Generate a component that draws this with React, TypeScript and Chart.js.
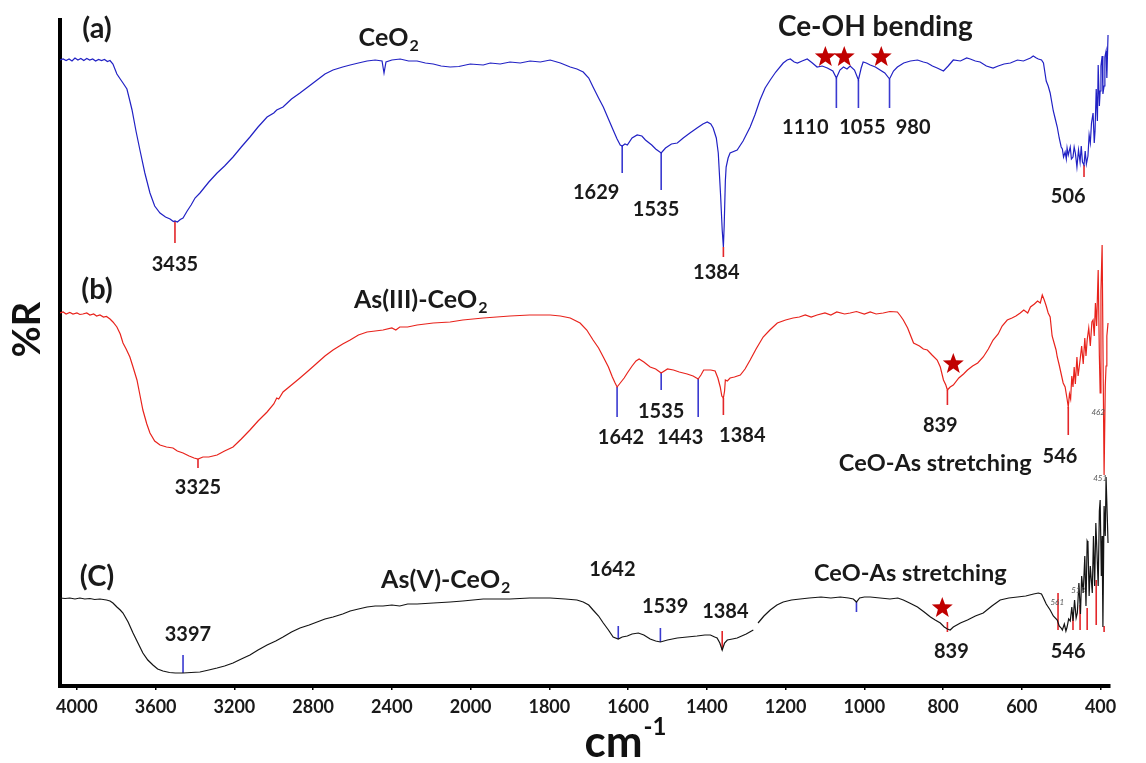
import React, { useEffect, useRef } from "react";
import { Chart, registerables } from "chart.js";
Chart.register(...registerables);

const FONT = "Lato, 'Open Sans', 'DejaVu Sans', sans-serif";

// x-axis: compressed scale above 2000 cm-1 (400 per tick), 200 per tick below
const xTickLabels = [4000, 3600, 3200, 2800, 2400, 2000, 1800, 1600, 1400, 1200, 1000, 800, 600, 400];
const WN_START = 4086;
const WN_END = 376;
function toU(wn: number): number {
  return wn >= 2000 ? (4000 - wn) / 400 : 5 + (2000 - wn) / 200;
}

// (a) CeO2 — wavenumber / %R (offset units)
const ceo2Wn = [4086,4070,4055,4040,4025,4010,3995,3980,3965,3950,3935,3920,3905,3890,3875,3860,3845,3832,3817,3797,3780,3766,3746,3731,3720,3700,3680,3655,3629,3605,3578,3550,3527,3510,3502,3490,3475,3461,3440,3420,3400,3375,3330,3288,3250,3207,3165,3121,3080,3034,3000,2985,2953,2910,2867,2820,2780,2740,2699,2650,2612,2570,2526,2485,2450,2440,2430,2400,2358,2315,2272,2230,2190,2150,2104,2060,2002,1968,1950,1925,1900,1874,1849,1823,1798,1772,1747,1730,1714,1700,1689,1675,1663,1650,1638,1628,1620,1615,1608,1602,1590,1577,1565,1556,1540,1530,1516,1505,1490,1475,1460,1443,1425,1410,1399,1390,1384,1376,1371,1365,1361,1358,1356,1353,1351,1346,1341,1323,1308,1290,1278,1265,1252,1239,1225,1206,1196,1188,1178,1170,1158,1145,1132,1120,1107,1094,1080,1071,1062,1053,1044,1036,1025,1015,1008,1003,995,985,972,960,948,936,926,916,900,883,865,850,840,827,815,799,787,774,756,740,731,718,706,690,673,660,645,629,611,596,578,571,563,558,550,545,538,533,528,520,515,510,505,500,497,494,490,487,485,482,477,474,470,467,464,460,456,452,449,446,442,439,436,432,429,426,423,419,416,414,411,408,406,403,401,399,396,394,391,389,386,384,381];
const ceo2R = [125.2,125.4,125.1,125.4,125.0,125.6,125.2,125.5,125.1,125.5,125.2,125.4,125.0,125.3,125.1,125.3,124.9,125.1,124.4,122.4,121.4,120.6,119.4,117.0,115.2,111.0,107.2,102.6,98.6,96.0,94.6,93.8,93.4,92.9,93.0,92.8,93.3,93.6,95.0,96.2,97.6,98.6,100.8,102.6,104.0,105.8,107.8,109.8,111.8,113.8,114.6,115.2,115.8,117.4,118.6,120.0,121.2,122.4,123.2,123.8,124.2,124.6,125.0,125.2,125.0,122.6,124.8,125.2,125.4,125.0,125.0,124.6,124.4,124.0,123.8,123.9,124.4,124.2,124.6,124.4,124.8,124.6,125.0,124.8,125.2,124.6,123.8,123.4,122.8,121.6,119.8,117.6,115.8,113.4,111.2,109.4,108.2,108.0,108.4,108.2,109.6,110.2,110.0,109.2,108.2,107.4,106.6,107.6,108.4,108.6,109.6,110.6,111.6,112.4,112.8,112.4,111.6,109.6,106.6,98.0,91.2,87.8,92.0,101.0,103.8,105.6,106.6,107.2,109.0,111.8,114.2,117.2,119.6,121.2,122.8,124.6,125.2,125.4,124.8,124.6,125.0,125.4,124.6,123.8,124.0,123.6,123.0,121.6,123.2,123.8,123.4,124.0,123.2,121.2,123.6,124.8,124.6,124.2,123.8,123.2,122.6,121.4,123.0,123.8,124.6,125.0,125.2,124.8,124.6,124.0,123.6,123.0,124.0,125.2,125.0,125.6,125.4,125.0,124.8,124.0,123.6,124.0,124.4,124.6,125.2,125.0,125.6,126.0,125.6,125.4,125.2,124.6,121.0,120.0,118.6,115.0,113.4,111.8,109.6,107.8,107.4,105.8,106.8,105.4,107.6,106.2,107.8,105.4,105.8,107.8,106.6,103.8,107.2,104.8,108.0,104.8,104.2,107.0,104.4,106.0,110.2,108.6,112.6,114.6,108.6,111.0,119.4,113.0,124.2,116.0,119.0,124.0,126.0,118.4,120.0,125.8,127.0,121.6,130.2];

// (b) As(III)-CeO2
const as3Wn = [4086,4070,4055,4036,4020,4000,3985,3970,3950,3934,3915,3900,3883,3865,3850,3832,3817,3797,3780,3766,3750,3731,3715,3695,3680,3665,3645,3629,3605,3578,3545,3512,3490,3461,3430,3405,3385,3360,3330,3288,3250,3207,3165,3121,3080,3034,3000,2985,2975,2953,2910,2867,2820,2780,2740,2699,2650,2612,2570,2526,2485,2445,2400,2380,2360,2320,2272,2190,2104,2040,1968,1900,1850,1798,1772,1747,1722,1705,1689,1675,1663,1650,1640,1633,1628,1620,1610,1602,1590,1580,1572,1560,1544,1530,1516,1500,1485,1470,1450,1435,1422,1415,1408,1399,1390,1379,1372,1366,1362,1358,1355,1353,1348,1341,1330,1315,1303,1290,1275,1257,1240,1221,1200,1181,1165,1150,1135,1120,1100,1085,1070,1050,1036,1020,1000,985,970,952,935,916,908,901,890,875,860,850,840,828,815,807,799,793,789,782,774,760,748,738,725,712,698,685,673,660,650,637,625,615,604,595,585,578,568,560,553,548,543,538,533,528,523,518,513,510,505,500,495,490,485,482,479,476,473,470,467,464,460,457,452,448,444,440,437,434,430,426,422,419,416,413,410,406,403,401,399,396,393,391,388,386,384,381];
const as3R = [74.6,74.8,74.4,74.7,74.4,74.6,74.3,74.4,74.6,74.2,74.4,74.0,74.2,73.8,73.9,73.4,72.8,71.8,70.4,68.6,67.4,65.8,63.8,61.2,58.2,55.2,52.4,50.6,49.0,48.2,47.8,47.6,47.0,46.6,46.0,45.6,45.4,45.8,45.8,46.2,47.0,47.8,49.4,51.2,53.0,54.8,56.4,57.6,57.4,58.8,60.2,61.6,63.2,64.6,66.0,67.2,68.4,69.2,70.2,70.8,71.0,71.2,71.6,71.2,71.8,71.8,72.2,72.6,72.8,73.2,73.6,74.0,74.2,74.2,74.0,73.6,72.6,71.2,69.2,67.6,65.8,63.8,61.8,60.6,59.8,60.6,61.6,62.6,64.0,65.0,65.4,64.8,63.8,63.4,62.6,63.4,63.2,62.8,62.4,62.0,61.4,62.2,63.2,63.2,63.2,63.0,61.6,59.8,58.0,57.6,59.0,61.2,61.0,61.6,61.8,62.2,63.4,65.2,67.4,69.8,71.2,72.6,73.2,73.6,73.8,74.2,73.8,74.2,74.6,74.2,74.8,74.4,74.6,74.9,74.4,74.8,74.4,74.6,74.9,74.8,74.0,73.2,71.6,68.6,68.0,67.4,67.2,66.2,65.2,63.8,61.2,60.2,59.2,59.8,60.2,61.6,62.4,63.2,64.0,64.6,65.8,67.4,69.2,70.4,72.0,73.2,73.6,74.0,74.6,75.2,74.6,75.8,76.4,77.0,76.6,78.2,77.2,76.0,74.6,73.8,70.0,68.6,67.2,65.8,64.2,62.4,60.6,59.8,57.4,55.8,58.4,57.4,62.0,59.8,63.8,60.4,65.8,62.0,65.2,68.0,64.4,69.6,66.0,69.2,71.6,68.0,72.8,73.2,70.0,76.6,72.0,83.2,66.0,58.6,79.0,88.2,60.0,42.2,60.0,64.0,70.0,72.6];

// (c) As(V)-CeO2 (null = gap in the trace)
const as5Wn = [4086,4060,4036,4010,3985,3960,3934,3910,3883,3850,3832,3817,3797,3780,3766,3740,3715,3690,3665,3640,3614,3590,3563,3530,3500,3461,3420,3375,3330,3288,3250,3207,3165,3121,3080,3034,2990,2953,2910,2867,2820,2780,2740,2699,2650,2612,2570,2526,2485,2445,2400,2360,2320,2272,2190,2104,2040,1968,1900,1850,1798,1760,1730,1714,1700,1689,1675,1663,1650,1638,1625,1615,1602,1590,1574,1560,1544,1530,1518,1500,1475,1450,1425,1405,1391,1380,1374,1367,1361,1355,1348,1335,1323,1300,1282,1276,1270,1255,1239,1222,1206,1185,1163,1140,1110,1085,1061,1040,1028,1020,1012,1000,985,960,935,915,901,885,865,848,832,820,807,797,789,782,774,756,738,718,698,676,655,633,611,590,570,558,550,545,538,528,520,510,505,500,497,492,488,485,481,477,473,470,466,462,459,455,451,448,444,440,437,434,432,429,426,421,418,415,412,409,406,403,401,398,396,394,391,388,386,383,381];
const as5R = [17.6,17.5,17.6,17.4,17.6,17.4,17.5,17.3,17.4,17.2,17.0,16.6,15.8,15.2,14.6,12.8,10.6,8.6,6.6,5.2,4.2,3.4,3.0,2.7,2.6,2.6,2.7,2.8,3.2,3.6,4.0,4.6,5.4,6.2,7.2,8.2,9.0,9.8,10.8,11.6,12.2,12.8,13.4,13.8,14.4,15.0,15.4,15.8,16.0,16.0,16.2,16.0,16.4,16.4,16.6,16.8,17.0,17.4,17.4,17.6,17.6,17.4,17.2,16.8,16.2,15.2,14.0,12.6,11.2,9.8,9.4,9.8,10.0,10.4,10.6,10.2,9.4,9.0,8.8,9.2,9.6,9.8,10.0,10.2,10.2,9.8,9.6,8.6,7.2,8.6,9.2,9.4,9.6,10.4,11.2,null,12.6,14.0,15.2,16.2,16.8,17.2,17.4,17.6,17.8,17.6,17.8,17.6,17.4,16.8,17.6,17.8,17.8,17.6,17.4,17.6,17.2,16.6,15.8,14.8,13.8,13.2,12.6,11.8,11.4,11.2,11.8,12.6,13.2,14.0,14.6,16.0,17.2,17.6,17.8,18.0,18.4,18.6,18.4,17.6,16.4,15.2,14.0,13.2,12.0,11.6,11.2,12.4,11.0,11.8,13.4,13.0,15.8,13.0,17.2,13.6,14.6,20.6,14.4,22.0,18.6,26.0,16.0,29.0,28.6,18.0,24.0,18.6,30.0,20.0,32.6,26.6,20.0,35.0,37.2,22.0,30.0,11.8,36.0,30.0,41.8,34.0,28.6];

// peak marker ticks: [wavenumber, top, bottom]
const blueMarks = [[1615,108.0,102.6],[1516,106.6,99.2],[1071,121.6,115.6],[1015,121.2,115.6],[936,121.4,115.6],[1628,59.8,53.8],[1516,62.6,59.2],[1422,61.4,53.8],[3461,6.2,2.6],[1625,12.0,9.4],[1518,11.6,8.8],[1020,16.8,14.8]];
const redMarks = [[3502,93.0,88.6],[1358,87.8,85.8],[442,104.2,101.8],[3385,45.4,43.6],[1358,57.6,54.2],[789,59.2,56.2],[482,55.8,50.2],[1361,11.0,7.2],[789,12.8,10.8],[508,18.6,11.2],[470,14.8,11.2],[452,16.2,11.2],[434,15.6,11.2],[411,21.2,12.2],[391,12.0,10.8]];

// peak labels: [text, wavenumber, value]
const peakLabels = [["3435",3502,84.2],["1629",1681,98.6],["1535",1529,95.2],["1384",1376,82.6],["1110",1150,111.6],["1055",1005,111.6],["980",876,111.6],["506",482,97.8],["3325",3385,39.6],["1642",1618,49.6],["1535",1516,54.8],["1443",1468,49.6],["1384",1310,50.0],["839",807,52.0],["546",503,45.8],["3397",3436,10.2],["1642",1640,23.2],["1539",1506,15.8],["1384",1353,14.8],["839",779,6.8],["546",482,6.8]];
// panel and band labels: [text, subscript, wavenumber, value]
const panelLabels = [["(a)","",3898,131.4],["(b)","",3898,79.2],["(C)","",3898,21.8]];
const sampleLabels = [["CeO","2",2419,129.6],["As(III)-CeO","2",2256,77.2],["As(V)-CeO","2",2129,21.2]];
const bendLabels = [["Ce-OH bending",972,131.8]];
const stretchLabels = [["CeO-As stretching",820,44.6],["CeO-As stretching",883,22.6]];
const tinyLabels = [["561",510,16.8],["513",457,19.2],["462",406,54.8],["451",401,41.6]];
const stars = [[1099,125.8],[1051,125.8],[957,125.8],[774,64.4],[802,15.6]];

function pts(wn: number[], r: (number | null)[]) {
  return wn.map((w, i) => ({ x: toU(w), y: r[i] }));
}

function drawStar(ctx: CanvasRenderingContext2D, cx: number, cy: number, R: number) {
  const r = R * 0.42;
  ctx.beginPath();
  for (let i = 0; i < 10; i++) {
    const ang = -Math.PI / 2 + (i * Math.PI) / 5;
    const rad = i % 2 === 0 ? R : r;
    const px = cx + rad * Math.cos(ang);
    const py = cy + rad * Math.sin(ang);
    if (i === 0) ctx.moveTo(px, py);
    else ctx.lineTo(px, py);
  }
  ctx.closePath();
  ctx.fill();
}

const annotPlugin = {
  id: "annot",
  afterDraw(chart: any) {
    const { ctx, chartArea } = chart;
    const xs = chart.scales.x;
    const ys = chart.scales.y;
    const X = (wn: number) => xs.getPixelForValue(toU(wn));
    const Y = (v: number) => ys.getPixelForValue(v);
    ctx.save();
    ctx.fillStyle = "#1a1a1a";
    ctx.textBaseline = "middle";
    ctx.textAlign = "center";
    // peak numbers
    ctx.font = `bold 20px ${FONT}`;
    for (const [t, w, v] of peakLabels as any[]) ctx.fillText(t, X(w), Y(v));
    // panel letters
    ctx.font = `bold 29px ${FONT}`;
    for (const [t, , w, v] of panelLabels as any[]) ctx.fillText(t, X(w), Y(v));
    // sample names with subscript
    for (const [t, s, w, v] of sampleLabels as any[]) {
      ctx.font = `bold 25px ${FONT}`;
      const w1 = ctx.measureText(t).width;
      ctx.font = `bold 16px ${FONT}`;
      const w2 = ctx.measureText(s).width;
      const x0 = X(w) - (w1 + w2) / 2;
      ctx.textAlign = "left";
      ctx.font = `bold 25px ${FONT}`;
      ctx.fillText(t, x0, Y(v));
      ctx.font = `bold 16px ${FONT}`;
      ctx.fillText(s, x0 + w1 + 1, Y(v) + 8);
      ctx.textAlign = "center";
    }
    // band labels
    ctx.font = `bold 28px ${FONT}`;
    for (const [t, w, v] of bendLabels as any[]) ctx.fillText(t, X(w), Y(v));
    ctx.font = `bold 23.5px ${FONT}`;
    for (const [t, w, v] of stretchLabels as any[]) ctx.fillText(t, X(w), Y(v));
    // tiny software labels
    ctx.font = `italic 8px ${FONT}`;
    ctx.fillStyle = "#555";
    for (const [t, w, v] of tinyLabels as any[]) ctx.fillText(t, X(w), Y(v));
    // stars
    ctx.fillStyle = "#c00000";
    for (const [w, v] of stars) drawStar(ctx, X(w), Y(v), 11);
    // axis titles
    ctx.fillStyle = "#111";
    const cx = chartArea.left + (chartArea.right - chartArea.left) * 0.538;
    const cy = chartArea.bottom + 57;
    ctx.font = `bold 44px ${FONT}`;
    const cmW = ctx.measureText("cm").width;
    ctx.font = `bold 24px ${FONT}`;
    const supW = ctx.measureText("-1").width;
    ctx.textAlign = "left";
    const sx = cx - (cmW + supW) / 2;
    ctx.font = `bold 44px ${FONT}`;
    ctx.fillText("cm", sx, cy);
    ctx.font = `bold 24px ${FONT}`;
    ctx.fillText("-1", sx + cmW + 1, cy - 16);
    ctx.translate(chartArea.left - 32, chartArea.top + (chartArea.bottom - chartArea.top) * 0.465);
    ctx.rotate(-Math.PI / 2);
    ctx.textAlign = "center";
    ctx.font = `bold 38px ${FONT}`;
    ctx.fillText("%R", 0, 0);
    ctx.restore();
  },
};

export default function App() {
  const ref = useRef<HTMLCanvasElement | null>(null);
  useEffect(() => {
    if (!ref.current) return;
    const line = (data: any[], color: string, w = 1.3) => ({
      data,
      borderColor: color,
      borderWidth: w,
      pointRadius: 0,
      fill: false,
      spanGaps: false,
      tension: 0,
    });
    const datasets: any[] = [
      line(pts(ceo2Wn, ceo2R), "#2121c4", 1.2),
      line(pts(as3Wn, as3R), "#e8231c", 1.2),
      line(pts(as5Wn, as5R), "#141414", 1.2),
      ...blueMarks.map(([w, a, b]) => line([{ x: toU(w), y: a }, { x: toU(w), y: b }], "#3a3ad0", 1.6)),
      ...redMarks.map(([w, a, b]) => line([{ x: toU(w), y: a }, { x: toU(w), y: b }], "#e3262a", 1.6)),
    ];
    const chart = new Chart(ref.current, {
      type: "line",
      data: { datasets },
      options: {
        animation: false,
        responsive: false,
        maintainAspectRatio: false,
        layout: { padding: { top: 20, right: 36, left: 0, bottom: 0 } },
        plugins: { legend: { display: false }, tooltip: { enabled: false } },
        scales: {
          x: {
            type: "linear",
            min: toU(WN_START),
            max: toU(WN_END),
            afterBuildTicks: (s: any) => {
              s.ticks = xTickLabels.map((v) => ({ value: toU(v) }));
            },
            afterFit: (s: any) => {
              s.height = 77;
            },
            ticks: {
              autoSkip: false,
              maxRotation: 0,
              padding: 6,
              color: "#1a1a1a",
              font: { family: FONT, size: 18, weight: "bold" },
              callback: (v: any) => String(xTickLabels[Math.round(Number(v))] ?? ""),
            },
            grid: { display: true, drawOnChartArea: false, drawTicks: true, tickLength: 4, color: "#000", lineWidth: 1.5 },
            border: { display: true, color: "#000", width: 4 },
          },
          y: {
            type: "linear",
            min: 0,
            max: 133.2,
            afterFit: (s: any) => {
              s.width = 60;
            },
            ticks: { display: false },
            grid: { display: false },
            border: { display: true, color: "#000", width: 4 },
          },
        },
      } as any,
      plugins: [annotPlugin],
    });
    return () => chart.destroy();
  }, []);
  return (
    <div style={{ position: "fixed", left: 0, top: 0, width: 1146, height: 763, background: "#fff" }}>
      <canvas ref={ref} width={1146} height={763} style={{ width: 1146, height: 763, display: "block" }} />
    </div>
  );
}
